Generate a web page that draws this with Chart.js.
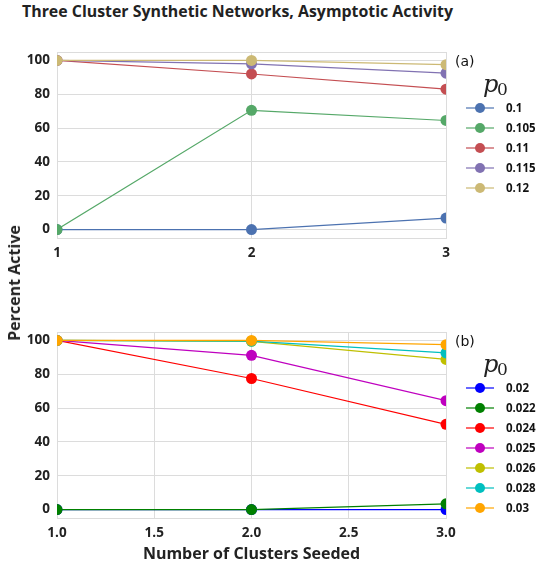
<!DOCTYPE html>
<html>
<head>
<meta charset="utf-8">
<script src="https://cdn.jsdelivr.net/npm/chart.js@4/dist/chart.umd.min.js"></script>
<style>
  body { margin: 0; background: #fff; }
  #wrap { position: relative; width: 538px; height: 561px; overflow: hidden; }
  #title { position: absolute; left: 22px; top: 0px; font: bold 15.9px 'Open Sans', sans-serif; color: #222; white-space: nowrap; }
  #ytitle { position: absolute; left: 14px; top: 283px; transform: translate(-50%, -50%) rotate(-90deg); font: bold 16px 'Open Sans', sans-serif; color: #222; white-space: nowrap; }
  canvas { position: absolute; left: 0; }
</style>
</head>
<body>
<div id="wrap">
  <div id="title">Three Cluster Synthetic Networks, Asymptotic Activity</div>
  <canvas id="chartA" style="top:0px"></canvas>
  <canvas id="chartB" style="top:280px"></canvas>
  <div id="ytitle">Percent Active</div>
</div>
<script>
const seeded = [1, 2, 3]

// panel (a)
const labelsA = ['0.1', '0.105', '0.11', '0.115', '0.12']
const colorsA = ['#4c72b0', '#55a868', '#c44e52', '#8172b2', '#ccb974']
const valuesA = [
  [0, 0, 6.8],
  [0, 70.5, 64.5],
  [100, 92, 83],
  [100, 98, 92.5],
  [100, 100, 97.5]
]

// panel (b)
const labelsB = ['0.02', '0.022', '0.024', '0.025', '0.026', '0.028', '0.03']
const colorsB = ['#0000ff', '#008000', '#ff0000', '#bf00bf', '#bfbf00', '#00bfbf', '#ffa500']
const valuesB = [
  [0, 0, 0],
  [0, 0, 3.4],
  [100, 77.5, 50.4],
  [100, 91.2, 64.4],
  [100, 99.5, 88.8],
  [100, 99.6, 92.6],
  [100, 100, 97.5]
]

const yTicks = [0, 20, 40, 60, 80, 100]
const gridColor = '#dcdcdc'
const tickFont = { family: 'Open Sans', weight: 'bold', size: 13.5 }

const framePlugin = {
  id: 'frame',
  afterDatasetsDraw(chart) {
    const a = chart.chartArea
    const ctx = chart.ctx
    ctx.save()
    ctx.strokeStyle = gridColor
    ctx.lineWidth = 1
    ctx.beginPath()
    ctx.moveTo(a.left, a.top + 0.5)
    ctx.lineTo(a.right + 0.5, a.top + 0.5)
    ctx.lineTo(a.right + 0.5, a.bottom)
    ctx.stroke()
    ctx.restore()
  }
}

const legendPlugin = {
  id: 'sideLegend',
  afterDraw(chart, args, opts) {
    const ctx = chart.ctx
    const a = chart.chartArea
    const x0 = a.right + 10
    ctx.save()
    ctx.fillStyle = '#111'
    ctx.font = '14px "DejaVu Sans"'
    ctx.textBaseline = 'middle'
    ctx.fillText(opts.tag, x0 - 1, a.top + 10)
    // p_0 title
    ctx.font = 'italic 24px "DejaVu Serif"'
    ctx.fillStyle = '#222'
    ctx.fillText('p', x0 + 27, a.top + 34)
    ctx.font = '17px "DejaVu Serif"'
    ctx.fillText('0', x0 + 41, a.top + 39)
    chart.data.datasets.forEach((ds, i) => {
      const y = a.top + 56 + i * 20
      ctx.strokeStyle = ds.borderColor
      ctx.lineWidth = 1.2
      ctx.beginPath()
      ctx.moveTo(x0 + 10, y)
      ctx.lineTo(x0 + 38, y)
      ctx.stroke()
      ctx.fillStyle = ds.pointBackgroundColor
      ctx.beginPath()
      ctx.arc(x0 + 24, y, 5, 0, Math.PI * 2)
      ctx.fill()
      ctx.fillStyle = '#111'
      ctx.font = 'bold 11.5px "Open Sans"'
      ctx.fillText(ds.label, x0 + 50, y + 1)
    })
    ctx.restore()
  }
}

function makeDatasets(labels, colors, values) {
  return labels.map((lab, i) => ({
    label: lab,
    data: values[i].map((v, j) => ({ x: seeded[j], y: v })),
    borderColor: colors[i],
    backgroundColor: colors[i],
    pointBackgroundColor: colors[i],
    pointBorderWidth: 0,
    pointRadius: 5.5,
    borderWidth: 1.2,
    order: labels.length - i
  }))
}

function makeChart(id, height, labels, colors, values, opts) {
  const el = document.getElementById(id)
  el.width = 538
  el.height = height
  el.style.width = '538px'
  el.style.height = height + 'px'
  return new Chart(el, {
    type: 'line',
    data: { datasets: makeDatasets(labels, colors, values) },
    options: {
      responsive: false,
      animation: false,
      layout: { autoPadding: false, padding: { left: 0, right: 92, top: opts.top, bottom: 0 } },
      plugins: {
        legend: { display: false },
        tooltip: { enabled: false },
        sideLegend: { tag: opts.tag }
      },
      scales: {
        x: {
          type: 'linear',
          min: 1,
          max: 3,
          afterFit: (s) => { s.height = opts.xHeight },
          grid: { color: gridColor, drawTicks: false },
          border: { color: gridColor },
          ticks: {
            stepSize: opts.step,
            padding: 7,
            color: '#222',
            font: tickFont,
            callback: opts.fmt
          },
          title: opts.xTitle
            ? { display: true, text: opts.xTitle, color: '#222', font: { family: 'Open Sans', weight: 'bold', size: 16 }, padding: { top: 4, bottom: 0 } }
            : { display: false }
        },
        y: {
          min: -5,
          max: 105,
          afterFit: (s) => { s.width = 57 },
          afterBuildTicks: (s) => { s.ticks = yTicks.map((v) => ({ value: v })) },
          grid: { color: gridColor, drawTicks: false },
          border: { color: gridColor },
          ticks: { padding: 7, color: '#222', font: tickFont }
        }
      }
    },
    plugins: [framePlugin, legendPlugin]
  })
}

makeChart('chartA', 270, labelsA, colorsA, valuesA, {
  top: 52, xHeight: 32, step: 1, tag: '(a)',
  fmt: (v) => String(v)
})
makeChart('chartB', 284, labelsB, colorsB, valuesB, {
  top: 52, xHeight: 46, step: 0.5, tag: '(b)',
  xTitle: 'Number of Clusters Seeded',
  fmt: (v) => Number(v).toFixed(1)
})
</script>
</body>
</html>
